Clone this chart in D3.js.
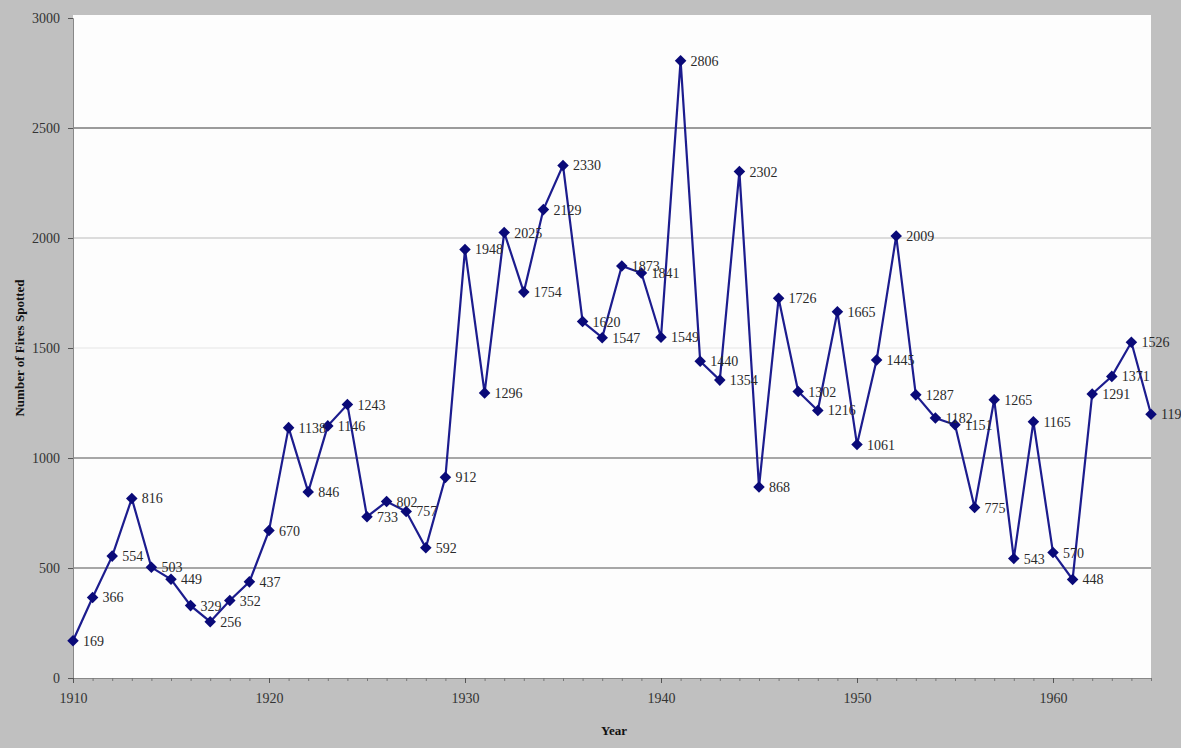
<!doctype html>
<html lang="en">
<head>
<meta charset="UTF-8">
<title>Fires spotted</title>
<script src="https://cdn.jsdelivr.net/npm/d3@7"></script>
<style>
  html, body { margin: 0; padding: 0; background: #c0c0c0; }
  text { font-family: "Liberation Serif", "DejaVu Serif", serif; }
</style>
</head>
<body>
<script>
  var width = 1181, height = 748;
  var margin = {left: 73, right: 30, top: 18, bottom: 70};

  // data
  var years = [1910,1911,1912,1913,1914,1915,1916,1917,1918,1919,
               1920,1921,1922,1923,1924,1925,1926,1927,1928,1929,
               1930,1931,1932,1933,1934,1935,1936,1937,1938,1939,
               1940,1941,1942,1943,1944,1945,1946,1947,1948,1949,
               1950,1951,1952,1953,1954,1955,1956,1957,1958,1959,
               1960,1961,1962,1963,1964,1965];
  var fires = [169,366,554,816,503,449,329,256,352,437,
               670,1138,846,1146,1243,733,802,757,592,912,
               1948,1296,2025,1754,2129,2330,1620,1547,1873,1841,
               1549,2806,1440,1354,2302,868,1726,1302,1216,1665,
               1061,1445,2009,1287,1182,1151,775,1265,543,1165,
               570,448,1291,1371,1526,1199];
  var yTicks = [0,500,1000,1500,2000,2500,3000];
  var xTicks = [1910,1920,1930,1940,1950,1960];

  var data = years.map(function(y, i) { return {year: y, value: fires[i]}; });

  var svg = d3.select("body").append("svg")
      .attr("width", width)
      .attr("height", height);

  var x = d3.scaleLinear().domain([1910, 1965]).range([margin.left, 1151]);
  var y = d3.scaleLinear().domain([0, 3000]).range([height - margin.bottom, margin.top]);

  // white plot area
  svg.append("rect")
      .attr("x", margin.left).attr("y", margin.top - 3)
      .attr("width", 1151 - margin.left).attr("height", y(0) - margin.top + 3)
      .attr("fill", "#fdfdfd");

  // gridlines (the scan makes some look fainter)
  var gridColor = {500: "#8a8a8a", 1000: "#8a8a8a", 1500: "#ececec", 2000: "#d0d0d0", 2500: "#7a7a7a"};
  svg.append("g").selectAll("line")
      .data(yTicks.filter(function(t) { return t > 0 && t < 3000; }))
      .enter().append("line")
      .attr("x1", margin.left).attr("x2", 1151)
      .attr("y1", function(d) { return y(d); })
      .attr("y2", function(d) { return y(d); })
      .attr("stroke", function(d) { return gridColor[d]; })
      .attr("stroke-width", 1.3);

  // y axis
  var yAxis = svg.append("g")
      .attr("transform", "translate(" + margin.left + ",0)")
      .call(d3.axisLeft(y).tickValues(yTicks).tickSize(5).tickPadding(8).tickFormat(d3.format("d")));
  yAxis.attr("font-family", null);
  yAxis.select(".domain").attr("stroke", "#888");
  yAxis.selectAll(".tick line").attr("stroke", "#555");
  yAxis.selectAll("text").attr("font-size", 14).attr("fill", "#333");

  // x axis, minor ticks every year
  var xAxisMinor = svg.append("g")
      .attr("transform", "translate(0," + y(0) + ")")
      .call(d3.axisBottom(x).tickValues(years).tickSize(3).tickFormat(""));
  xAxisMinor.select(".domain").attr("stroke", "#888");
  xAxisMinor.selectAll(".tick line").attr("stroke", "#777");

  var xAxis = svg.append("g")
      .attr("transform", "translate(0," + y(0) + ")")
      .call(d3.axisBottom(x).tickValues(xTicks).tickSize(5).tickPadding(10).tickFormat(d3.format("d")));
  xAxis.attr("font-family", null);
  xAxis.select(".domain").remove();
  xAxis.selectAll(".tick line").attr("stroke", "#555");
  xAxis.selectAll("text").attr("font-size", 14).attr("fill", "#333");

  // line
  var line = d3.line()
      .x(function(d) { return x(d.year); })
      .y(function(d) { return y(d.value); });

  svg.append("path")
      .datum(data)
      .attr("fill", "none")
      .attr("stroke", "#1c1c8e")
      .attr("stroke-width", 2.2)
      .attr("d", line);

  // diamond markers
  var diamond = d3.symbol().type(d3.symbolDiamond2).size(85);
  svg.append("g").selectAll("path")
      .data(data)
      .enter().append("path")
      .attr("transform", function(d) { return "translate(" + x(d.year) + "," + y(d.value) + ")"; })
      .attr("d", diamond)
      .attr("fill", "#0a0a78");

  // value labels
  svg.append("g").selectAll("text")
      .data(data)
      .enter().append("text")
      .attr("x", function(d) { return x(d.year) + 10; })
      .attr("y", function(d) { return y(d.value) + 5; })
      .attr("font-size", 14)
      .attr("fill", "#2a2a2a")
      .text(function(d) { return d.value; });

  // axis titles
  svg.append("text")
      .attr("transform", "translate(24," + ((margin.top + y(0)) / 2) + ") rotate(-90)")
      .attr("text-anchor", "middle")
      .attr("font-size", 13)
      .attr("font-weight", "bold")
      .attr("fill", "#111")
      .text("Number of Fires Spotted");

  svg.append("text")
      .attr("x", 614).attr("y", 735)
      .attr("text-anchor", "middle")
      .attr("font-size", 13)
      .attr("font-weight", "bold")
      .attr("fill", "#111")
      .text("Year");
</script>
</body>
</html>
